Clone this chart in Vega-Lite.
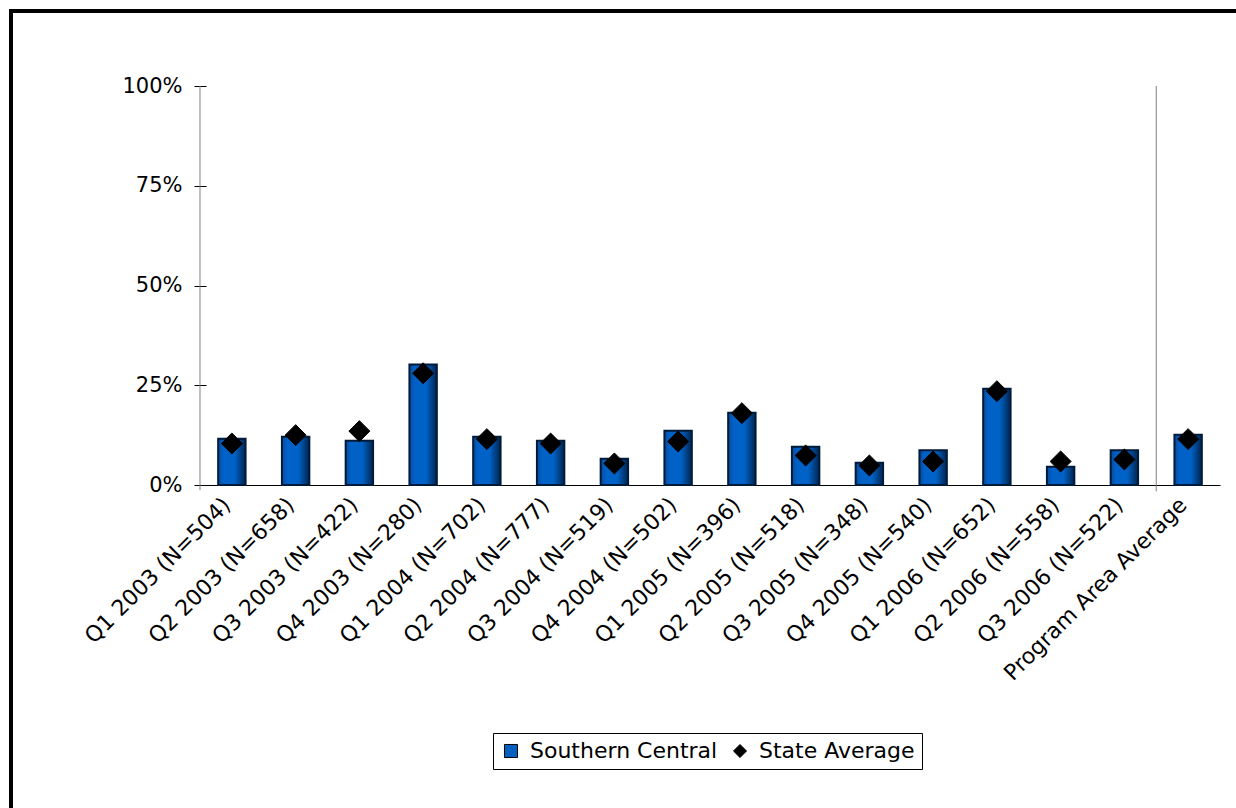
{
  "$schema": "https://vega.github.io/schema/vega-lite/v6.json",
  "width": 1231,
  "height": 803,
  "autosize": {"type": "none"},
  "padding": {"left": 11, "top": 11, "right": -6, "bottom": -6},
  "background": "white",
  "config": {
    "view": {"stroke": "black", "strokeWidth": 4},
    "font": "DejaVu Sans",
    "legend": {
      "title": null,
      "direction": "horizontal",
      "strokeColor": "black",
      "strokeWidth": 1,
      "fillColor": "white",
      "padding": 7,
      "labelFont": "DejaVu Sans",
      "labelFontSize": 22,
      "labelColor": "black",
      "labelLimit": 400,
      "symbolSize": 170,
      "symbolStrokeWidth": 1,
      "columnPadding": 11,
      "labelOffset": 8
    }
  },
  "data": {
    "values": [
      {"cat": "Q1 2003 (N=504)", "Southern Central": 0.116, "State Average": 0.104},
      {"cat": "Q2 2003 (N=658)", "Southern Central": 0.121, "State Average": 0.125},
      {"cat": "Q3 2003 (N=422)", "Southern Central": 0.111, "State Average": 0.135},
      {"cat": "Q4 2003 (N=280)", "Southern Central": 0.302, "State Average": 0.280},
      {"cat": "Q1 2004 (N=702)", "Southern Central": 0.121, "State Average": 0.115},
      {"cat": "Q2 2004 (N=777)", "Southern Central": 0.111, "State Average": 0.104},
      {"cat": "Q3 2004 (N=519)", "Southern Central": 0.066, "State Average": 0.054},
      {"cat": "Q4 2004 (N=502)", "Southern Central": 0.136, "State Average": 0.109},
      {"cat": "Q1 2005 (N=396)", "Southern Central": 0.181, "State Average": 0.180},
      {"cat": "Q2 2005 (N=518)", "Southern Central": 0.096, "State Average": 0.074},
      {"cat": "Q3 2005 (N=348)", "Southern Central": 0.056, "State Average": 0.049},
      {"cat": "Q4 2005 (N=540)", "Southern Central": 0.087, "State Average": 0.059},
      {"cat": "Q1 2006 (N=652)", "Southern Central": 0.241, "State Average": 0.235},
      {"cat": "Q2 2006 (N=558)", "Southern Central": 0.046, "State Average": 0.059},
      {"cat": "Q3 2006 (N=522)", "Southern Central": 0.087, "State Average": 0.064},
      {"cat": "Program Area Average", "Southern Central": 0.126, "State Average": 0.115}
    ]
  },
  "layer": [
    {
      "transform": [
        {"fold": ["Southern Central", "State Average"], "as": ["series", "value"]},
        {"filter": "datum.series === 'Southern Central'"}
      ],
      "mark": {
        "type": "bar",
        "fill": {
          "gradient": "linear",
          "x1": 0, "x2": 1, "y1": 0, "y2": 0,
          "stops": [
            {"offset": 0, "color": "#0a4a9a"},
            {"offset": 0.2, "color": "#0062c8"},
            {"offset": 0.6, "color": "#0062c6"},
            {"offset": 1, "color": "#00244f"}
          ]
        },
        "stroke": "#001a3a",
        "strokeWidth": 2
      },
      "encoding": {
        "x": {
          "field": "cat",
          "type": "nominal",
          "sort": null,
          "scale": {"range": [189, 1209], "paddingInner": 0.57, "paddingOuter": 0.285},
          "axis": {
            "title": null,
            "domain": true,
            "domainColor": "black",
            "domainWidth": 1,
            "ticks": false,
            "labelAngle": -45,
            "labelAlign": "right",
            "labelBaseline": "alphabetic",
            "labelFont": "DejaVu Sans",
            "labelFontSize": 22,
            "labelColor": "black",
            "labelPadding": 21,
            "labelLimit": 400,
            "labelOverlap": false,
            "offset": -329
          }
        },
        "y": {
          "field": "value",
          "type": "quantitative",
          "scale": {"domain": [0, 1], "range": [474, 75], "nice": false, "zero": false},
          "axis": {
            "title": null,
            "values": [0, 0.25, 0.5, 0.75, 1],
            "format": ".0%",
            "domain": false,
            "grid": false,
            "ticks": true,
            "tickSize": 12,
            "tickColor": "black",
            "tickWidth": 1,
            "offset": -195,
            "labelFont": "DejaVu Sans",
            "labelFontSize": 21,
            "labelColor": "black",
            "labelPadding": 12
          }
        }
      }
    },
    {
      "transform": [
        {"fold": ["Southern Central", "State Average"], "as": ["series", "value"]},
        {"filter": "datum.series === 'State Average'"}
      ],
      "mark": {"type": "point", "filled": true, "size": 440, "stroke": "black", "strokeWidth": 1, "opacity": 1},
      "encoding": {
        "x": {"field": "cat", "type": "nominal", "sort": null},
        "y": {"field": "value", "type": "quantitative"},
        "color": {
          "field": "series",
          "type": "nominal",
          "scale": {"domain": ["Southern Central", "State Average"], "range": ["#0060c0", "#000000"]},
          "legend": {"orient": "none", "legendX": 482, "legendY": 722}
        },
        "shape": {
          "field": "series",
          "type": "nominal",
          "scale": {"domain": ["Southern Central", "State Average"], "range": ["square", "diamond"]},
          "legend": {"orient": "none", "legendX": 482, "legendY": 722}
        }
      }
    },
    {
      "data": {
        "values": [
          {"cat": "Q1 2003 (N=504)", "lo": -0.013, "hi": 1},
          {"cat": "Program Area Average", "lo": -0.016, "hi": 1}
        ]
      },
      "mark": {"type": "rule", "color": "#808080", "strokeWidth": 1},
      "encoding": {
        "x": {"field": "cat", "type": "nominal", "sort": null, "bandPosition": -0.663},
        "y": {"field": "lo", "type": "quantitative"},
        "y2": {"field": "hi"}
      }
    }
  ]
}
